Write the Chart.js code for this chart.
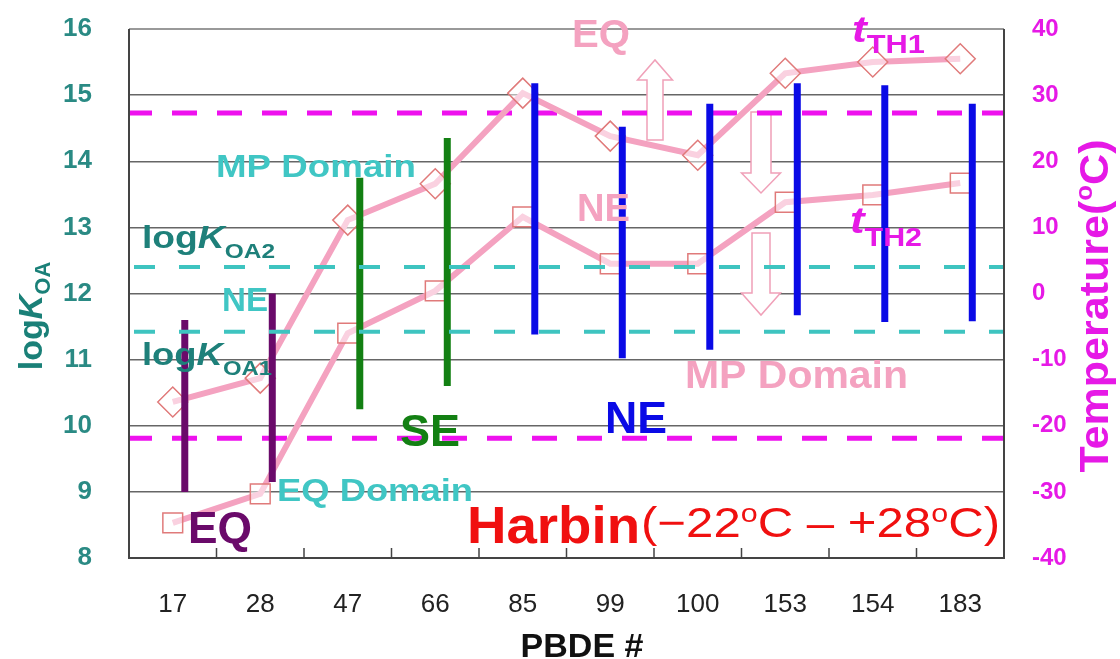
<!DOCTYPE html>
<html>
<head>
<meta charset="utf-8">
<script src="https://cdn.jsdelivr.net/npm/chart.js@4.4.1/dist/chart.umd.min.js"></script>
<style>
  html, body { margin: 0; padding: 0; background: #fff; }
  #wrap { width: 1120px; height: 659px; }
</style>
</head>
<body>
<div id="wrap"><canvas id="pbdeChart" width="1120" height="659"></canvas></div>
<script>
const FONT = '"Liberation Sans", Arial, sans-serif';

// PBDE congeners on the x axis
const congeners = ['17', '28', '47', '66', '85', '99', '100', '153', '154', '183'];
// logKOA range of each congener (vertical bars) and its domain
const koaLow  = [9.0, 9.15, 10.25, 10.6, 11.38, 11.02, 11.15, 11.67, 11.57, 11.58];
const koaHigh = [11.6, 12.0, 13.75, 14.35, 15.18, 14.52, 14.87, 15.18, 15.15, 14.87];
const domains = ['EQ', 'EQ', 'SE', 'SE', 'NE', 'NE', 'NE', 'NE', 'NE', 'NE'];
// threshold temperatures, degC (right axis)
const tTH1 = [-16.4, -12.8, 11.1, 16.6, 30.3, 23.8, 20.9, 33.3, 35.0, 35.5];
const tTH2 = [-34.7, -30.3, -6.0, 0.4, 11.6, 4.5, 4.5, 13.8, 14.9, 16.7];
// logKOA1 / logKOA2 limits and Harbin temperature range
const koaLimits = [11.42, 12.4];
const harbinRange = [-21.9, 27.3];

const domainColor = { EQ: '#6a0a6a', SE: '#138013', NE: '#0a0ae6' };
const PINK = '#f4a2c0';

// draw a run of text pieces [text, font, dy, color], stretched to a width
function rich(ctx, parts, x, y, width, align, color) {
  ctx.save();
  let natural = 0;
  parts.forEach(p => { ctx.font = p[1]; natural += ctx.measureText(p[0]).width; });
  const sx = width ? width / natural : 1;
  ctx.translate(x, y);
  ctx.scale(sx, 1);
  ctx.textAlign = 'left';
  ctx.textBaseline = 'alphabetic';
  let cx = align === 'center' ? -natural / 2 : 0;
  parts.forEach(p => {
    ctx.font = p[1];
    ctx.fillStyle = p[3] || color;
    ctx.fillText(p[0], cx, p[2] || 0);
    cx += ctx.measureText(p[0]).width;
  });
  ctx.restore();
}

function arrow(ctx, x, yTail, yTip, shaftW, headW, headLen) {
  const dir = yTip < yTail ? -1 : 1;
  const yHead = yTip - dir * headLen;
  ctx.beginPath();
  ctx.moveTo(x - shaftW / 2, yTail);
  ctx.lineTo(x - shaftW / 2, yHead);
  ctx.lineTo(x - headW / 2, yHead);
  ctx.lineTo(x, yTip);
  ctx.lineTo(x + headW / 2, yHead);
  ctx.lineTo(x + shaftW / 2, yHead);
  ctx.lineTo(x + shaftW / 2, yTail);
  ctx.closePath();
  ctx.fillStyle = '#ffffff';
  ctx.fill();
  ctx.strokeStyle = '#f0a0b8';
  ctx.lineWidth = 1.5;
  ctx.stroke();
}

function hLine(ctx, area, y, color, width, dash, offset) {
  ctx.save();
  ctx.beginPath();
  ctx.setLineDash(dash);
  ctx.lineDashOffset = offset;
  ctx.strokeStyle = color;
  ctx.lineWidth = width;
  ctx.moveTo(area.left, y);
  ctx.lineTo(area.right, y);
  ctx.stroke();
  ctx.restore();
}

const decor = {
  id: 'decor',
  beforeDatasetsDraw(chart) {
    const ctx = chart.ctx, area = chart.chartArea;
    const yT = chart.scales.yT;
    arrow(ctx, 655, 140, 60, 16, 35, 20);
    arrow(ctx, 761, 112, 193, 20, 39, 20);
    arrow(ctx, 761, 233, 315, 18, 39, 22);
    // Harbin temperature range
    harbinRange.forEach(t => hLine(ctx, area, yT.getPixelForValue(t), '#ee11ee', 5, [25, 20], 2));
  },
  afterDatasetsDraw(chart) {
    const ctx = chart.ctx, area = chart.chartArea;
    const y = chart.scales.y, x = chart.scales.x;
    koaLimits.forEach(v => hLine(ctx, area, y.getPixelForValue(v), '#3ec4c0', 4, [21, 24], -5));

    // frame
    ctx.save();
    ctx.lineWidth = 2;
    ctx.strokeStyle = '#999';
    ctx.beginPath();
    ctx.moveTo(area.left, area.top);
    ctx.lineTo(area.right, area.top);
    ctx.stroke();
    ctx.strokeStyle = '#444';
    ctx.beginPath();
    ctx.moveTo(area.left, area.top);
    ctx.lineTo(area.left, area.bottom);
    ctx.lineTo(area.right, area.bottom);
    ctx.lineTo(area.right, area.top);
    ctx.stroke();
    // inward ticks between categories
    ctx.lineWidth = 1.5;
    ctx.beginPath();
    for (let i = 1; i < congeners.length; i++) {
      const px = (x.getPixelForValue(i - 1) + x.getPixelForValue(i)) / 2;
      ctx.moveTo(px, area.bottom);
      ctx.lineTo(px, area.bottom - 10);
    }
    ctx.stroke();
    ctx.restore();

    const B = 'bold ', F = 'px ' + FONT;
    // annotations
    rich(ctx, [['EQ', B + '38' + F]], 572, 47, 58, 'left', PINK);
    rich(ctx, [['t', 'italic bold 36' + F], ['TH1', B + '25' + F, 11]], 852, 42, 73, 'left', '#e619e6');
    rich(ctx, [['MP Domain', B + '31' + F]], 216, 177, 200, 'left', '#40c6c4');
    rich(ctx, [['log', B + '32' + F], ['K', 'italic bold 32' + F], ['OA2', B + '21' + F, 10]], 142, 248, 133, 'left', '#1e807a');
    rich(ctx, [['NE', B + '33' + F]], 222, 311, 46, 'left', '#40c6c4');
    rich(ctx, [['log', B + '32' + F], ['K', 'italic bold 32' + F], ['OA1', B + '21' + F, 10]], 142, 365, 130, 'left', '#1e807a');
    rich(ctx, [['NE', B + '38' + F]], 577, 221, 53, 'left', PINK);
    rich(ctx, [['t', 'italic bold 36' + F], ['TH2', B + '25' + F, 13]], 850, 233, 72, 'left', '#e619e6');
    rich(ctx, [['MP Domain', B + '38' + F]], 685, 388, 223, 'left', PINK);
    rich(ctx, [['SE', B + '44' + F]], 400, 446, 60, 'left', '#138013');
    rich(ctx, [['NE', B + '44' + F]], 605, 433, 62, 'left', '#0a0ae6');
    rich(ctx, [['EQ', B + '44' + F]], 188, 543, 64, 'left', '#6a0a6a');
    rich(ctx, [['EQ Domain', B + '31' + F]], 277, 501, 196, 'left', '#40c6c4');
    rich(ctx, [['Harbin', B + '52' + F]], 467, 543, 173, 'left', '#f01010');
    rich(ctx, [['(\u221222', '42' + F], ['o', '26' + F, -15], ['C \u2013 +28', '42' + F], ['o', '26' + F, -15], ['C)', '42' + F]],
      641, 537, 359, 'left', '#f01010');

    // axis titles
    ctx.save();
    ctx.translate(42, 316);
    ctx.rotate(-Math.PI / 2);
    rich(ctx, [['log', B + '34' + F], ['K', 'italic bold 34' + F], ['OA', B + '22' + F, 8]], 0, 0, 0, 'center', '#1a8078');
    ctx.restore();

    ctx.save();
    ctx.translate(1108, 306);
    ctx.rotate(-Math.PI / 2);
    rich(ctx, [['Temperature(', B + '40' + F], ['o', B + '24' + F, -16], ['C)', B + '40' + F]], 0, 0, 333, 'center', '#e619e6');
    ctx.restore();

    rich(ctx, [['PBDE #', B + '34' + F]], 582, 657, 0, 'center', '#111');
  }
};

// fixed axis box sizes so the plot area sits where the reference has it
function fixBox(size) {
  return s => {
    if (s.isHorizontal()) { s.height = size; } else { s.width = size; }
    s.paddingTop = 0;
    s.paddingBottom = 0;
  };
}

new Chart(document.getElementById('pbdeChart'), {
  type: 'bar',
  data: {
    labels: congeners,
    datasets: [
      {
        // empty slot, pushes the bars to the right of each category centre
        data: congeners.map(() => null),
        categoryPercentage: 0.55,
        barPercentage: 1,
        maxBarThickness: 7,
        order: 1
      },
      {
        label: 'logKOA range',
        data: koaLow.map((lo, i) => [lo, koaHigh[i]]),
        backgroundColor: domains.map(d => domainColor[d]),
        borderWidth: 0,
        maxBarThickness: 7,
        categoryPercentage: 0.55,
        barPercentage: 1,
        order: 1
      },
      {
        type: 'line',
        label: 'tTH1',
        data: tTH1,
        yAxisID: 'yT',
        borderColor: PINK,
        borderWidth: 6,
        pointStyle: 'rectRot',
        pointRadius: 15,
        pointBorderColor: '#e07a7a',
        pointBorderWidth: 1.5,
        pointBackgroundColor: 'rgba(255,255,255,0.5)',
        order: 2
      },
      {
        type: 'line',
        label: 'tTH2',
        data: tTH2,
        yAxisID: 'yT',
        borderColor: PINK,
        borderWidth: 6,
        pointStyle: 'rect',
        pointRadius: 14,
        pointBorderColor: '#e07a7a',
        pointBorderWidth: 1.5,
        pointBackgroundColor: 'rgba(255,255,255,0.5)',
        order: 2
      }
    ]
  },
  options: {
    responsive: false,
    animation: false,
    layout: { padding: { top: 29, left: 0, right: 0, bottom: 0 } },
    plugins: { legend: { display: false }, tooltip: { enabled: false } },
    scales: {
      x: {
        grid: { display: false },
        border: { display: false },
        ticks: { color: '#222', font: { family: FONT, size: 26 }, padding: 23 },
        afterFit: fixBox(101)
      },
      y: {
        position: 'left',
        min: 8, max: 16,
        ticks: { stepSize: 1, color: '#2a8a84', font: { family: FONT, size: 26, weight: 'bold' }, padding: 37 },
        grid: { color: '#666', lineWidth: 1.5, drawTicks: false },
        border: { display: false },
        afterFit: fixBox(129)
      },
      yT: {
        position: 'right',
        min: -40, max: 40,
        ticks: { stepSize: 10, color: '#e619e6', font: { family: FONT, size: 24, weight: 'bold' }, padding: 28 },
        grid: { drawOnChartArea: false, drawTicks: false },
        border: { display: false },
        afterFit: fixBox(116)
      }
    }
  },
  plugins: [decor]
});
</script>
</body>
</html>
